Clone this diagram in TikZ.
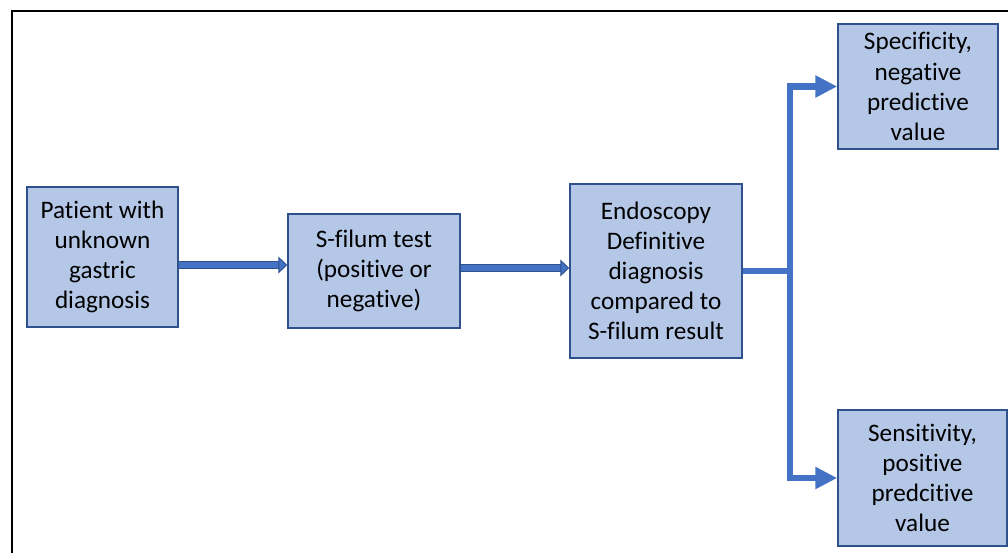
\documentclass[tikz,border=0pt]{standalone}
\usepackage{fontspec}
\setmainfont{Carlito}[Ligatures=CommonOff]
\usetikzlibrary{arrows.meta,positioning}
\definecolor{sfFill}{HTML}{B4C7E7}
\definecolor{sfLine}{HTML}{2F528F}
\definecolor{sfArrow}{HTML}{4472C4}
\newdimen\pxu \pxu=0.75pt
\tikzset{
  box/.style        ={draw=sfLine,line width=1.5\pxu,fill=sfFill,align=center,
                      inner sep=0pt,font=\fontsize{18.9}{22.6}\selectfont},
  blockarrow/.style ={draw=sfLine,line width=1\pxu,double=sfArrow,double distance=6\pxu,
                      -{Triangle[length=6.75pt,width=12.75pt,fill=sfArrow]}},
  branch/.style     ={sfArrow,line width=6.5\pxu,-{Triangle[length=16.5pt,width=15.75pt]}},
  frame/.style      ={black,line width=2\pxu},
}

\begin{document}
\begin{tikzpicture}[x=0.75pt,y=-0.75pt]
\useasboundingbox (0,0) rectangle (1008,553);
\draw[frame] (12,600) -- (12,11) -- (1050,11);

\node[box,minimum width=151\pxu,minimum height=140\pxu] (patient) at (102.5,257)
  {Patient with\\unknown\\gastric\\diagnosis};
\node[box,minimum width=172\pxu,minimum height=114\pxu] (sfilum) at (374,271)
  {S-filum test\\(positive or\\negative)};
\node[box,minimum width=172\pxu,minimum height=174\pxu] (endo) at (656,271)
  {Endoscopy\\Definitive\\diagnosis\\compared to\\S-filum result};
\node[box,minimum width=160\pxu,minimum height=125\pxu] (spec) at (918,86.5)
  {Specificity,\\negative\\predictive\\value};
\node[box,minimum width=169\pxu,minimum height=136\pxu] (sens) at (922.5,478)
  {Sensitivity,\\positive\\predcitive\\value};

\draw[blockarrow] ([yshift=-6pt]patient.east) -- ([yshift=4.5pt]sfilum.west);
\draw[blockarrow] ([yshift=2.25pt]sfilum.east) -- ([yshift=2.25pt]endo.west);

\coordinate (split) at (790,271);
\draw[branch] (endo.east) -- (split) |- (spec.west);
\draw[branch] (endo.east) -- (split) |- (sens.west);
\end{tikzpicture}
\end{document}
